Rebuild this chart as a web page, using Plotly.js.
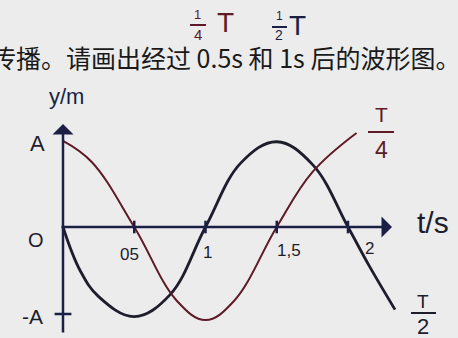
<html lang="zh">
  <head>
    <meta charset="UTF-8" />
    <script src="https://cdn.plot.ly/plotly-3.0.1.min.js"></script>
    <title>波形图</title>
    <style>
      body { margin: 0; background: #ececec; }
    </style>
  </head>
  <body>
    <div id="wave" style="width:458px; height:338px;"></div>
    <script>
      // wave at t=0 (black) and after T/4 (red)
      const blackT = [0, 0.12, 0.25, 0.5, 0.75, 1, 1.25, 1.5, 1.75, 2, 2.15, 2.33];
      const blackY = [0, -0.5, -0.8, -1.03, -0.78, 0, 0.74, 0.98, 0.72, 0, -0.45, -0.95];
      const redT = [0, 0.2, 0.5, 0.8, 1, 1.2, 1.5, 1.75, 2.06];
      const redY = [0.99, 0.75, 0, -0.85, -1.07, -0.85, 0, 0.63, 1.08];
      const tickT = [0.5, 1, 1.5, 2];
      const tickLabels = ['05', '1', '1,5', '2'];

      // pixel -> data helpers (origin at 63,227 ; 0.5s = 71px ; A = 87px)
      const W = 458, H = 338;
      const px = p => (p - 63) / 142.5;
      const py = p => (227 - p) / 87;

      const navy = '#1b1f45';
      const ink = '#1d1d2c';
      const red = '#5e1a26';
      const hand = 'Liberation Sans, DejaVu Sans, sans-serif';

      const traces = [
        {
          x: blackT, y: blackY, mode: 'lines',
          line: { color: ink, width: 2.8, shape: 'spline', smoothing: 1.1 }
        },
        {
          x: redT, y: redY, mode: 'lines',
          line: { color: red, width: 2, shape: 'spline', smoothing: 1.1 }
        },
        {
          x: tickT, y: tickT.map(() => 0), mode: 'markers',
          marker: { symbol: 'line-ns-open', size: 9, color: navy, line: { color: navy, width: 2.5 } }
        },
        {
          x: [0], y: [-1.0], mode: 'markers',
          marker: { symbol: 'line-ew-open', size: 12, color: navy, line: { color: navy, width: 2.5 } }
        }
      ];

      function label(text, xp, yp, size, color, extra) {
        return Object.assign({
          text: text, x: px(xp), y: py(yp), xref: 'x', yref: 'y',
          showarrow: false, font: { family: hand, size: size, color: color || ink }
        }, extra || {});
      }

      const tickPix = [[129, 254], [207, 252], [289, 250], [369, 248]];

      const annotations = [
        // axes with arrow heads
        { x: px(392), y: 0, ax: px(60), ay: 0, xref: 'x', yref: 'y', axref: 'x', ayref: 'y',
          text: '', showarrow: true, arrowhead: 1, arrowsize: 1.4, arrowwidth: 2.5, arrowcolor: navy },
        { x: 0, y: py(124), ax: 0, ay: py(334), xref: 'x', yref: 'y', axref: 'x', ayref: 'y',
          text: '', showarrow: true, arrowhead: 1, arrowsize: 1.4, arrowwidth: 2.5, arrowcolor: navy },
        label('y/m', 66, 96, 22, navy),
        label('t/s', 433, 222, 30, ink),
        label('A', 37, 143, 22),
        label('O', 36, 240, 20),
        label('-A', 32, 316, 21),
        // handwritten notes
        label('T', 381, 114, 21, red),
        label('4', 381, 150, 23, red),
        label('T', 423, 301, 19),
        label('2', 423, 326, 22),
        label('1', 197, 14, 13, red),
        label('4', 198, 34, 15, red),
        label('T', 225, 22, 28, red),
        label('1', 279, 16, 12, navy),
        label('2', 279, 35, 14, navy),
        label('T', 297, 25, 28, navy),
        // printed question line
        { text: '传播。请画出经过 0.5s 和 1s 后的波形图。', x: -11 / W, y: 1 - 57 / H,
          xref: 'paper', yref: 'paper', xanchor: 'left', yanchor: 'middle', showarrow: false,
          font: { family: 'Noto Sans CJK SC', size: 25, color: '#1a1a1a' } }
      ].concat(tickLabels.map((s, i) => label(s, tickPix[i][0], tickPix[i][1], 17)));

      // fraction bars
      const bar = (x0, x1, y, c, w) => ({
        type: 'line', xref: 'x', yref: 'y', x0: px(x0), x1: px(x1), y0: py(y), y1: py(y),
        line: { color: c, width: w }
      });
      const shapes = [
        bar(368, 394, 132, red, 2),
        bar(411, 436, 313, ink, 2),
        bar(190, 206, 25, red, 2),
        bar(272, 287, 27, navy, 2)
      ];

      Plotly.newPlot('wave', traces, {
        width: W, height: H,
        margin: { l: 0, r: 0, t: 0, b: 0 },
        paper_bgcolor: '#ececec',
        plot_bgcolor: '#ececec',
        showlegend: false,
        xaxis: { range: [px(0), px(W)], visible: false, fixedrange: true },
        yaxis: { range: [py(H), py(0)], visible: false, fixedrange: true },
        annotations: annotations,
        shapes: shapes
      }, { staticPlot: true });
    </script>
  </body>
</html>
